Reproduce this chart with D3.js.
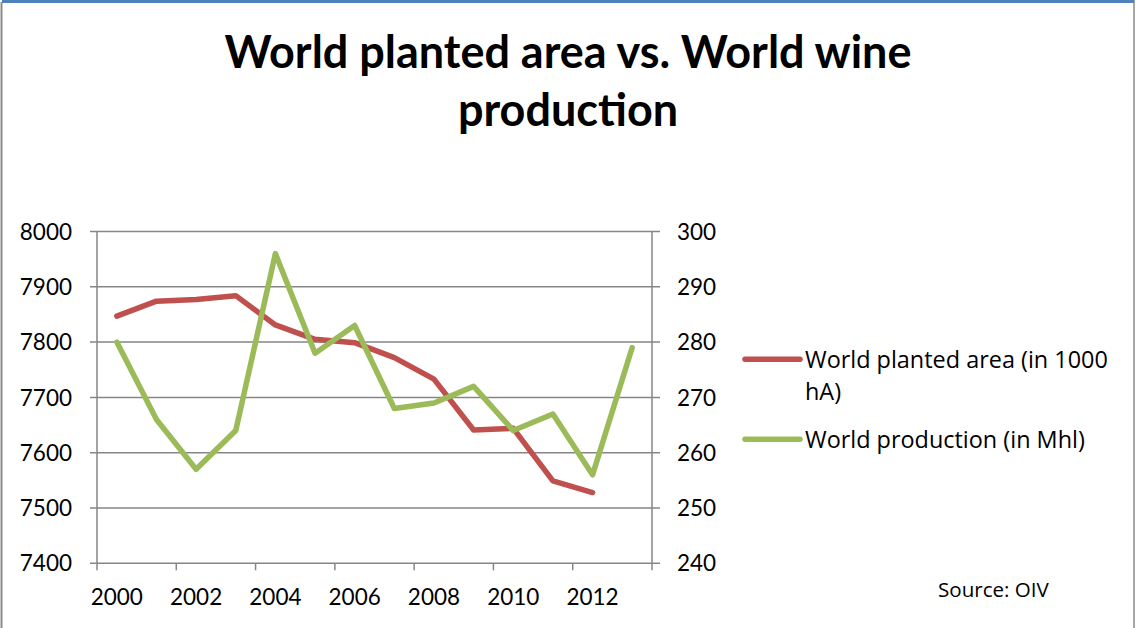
<!DOCTYPE html>
<html>
<head>
<meta charset="utf-8">
<script src="https://cdn.jsdelivr.net/npm/d3@7"></script>
<style>
    body { margin: 0; background: #fff; }
    svg { display: block; }
    text { font-family: Lato, "Open Sans", sans-serif; fill: #000; }
    .legend-text { font-family: "Open Sans", Lato, sans-serif; }
</style>
</head>
<body>
<div id="chart"></div>
<script>
// chart data
const years = [2000, 2001, 2002, 2003, 2004, 2005, 2006, 2007, 2008, 2009, 2010, 2011, 2012, 2013]
const plantedArea = [7847, 7874, 7877, 7884, 7831, 7805, 7799, 7772, 7733, 7641, 7644, 7549, 7528, null]
const wineProduction = [280, 266, 257, 264, 296, 278, 283, 268, 269, 272, 264, 267, 256, 279]
const leftTicks = [7400, 7500, 7600, 7700, 7800, 7900, 8000]
const rightTicks = [240, 250, 260, 270, 280, 290, 300]
const xLabels = [2000, 2002, 2004, 2006, 2008, 2010, 2012]
const titleLines = ["World planted area vs. World wine", "production"]
const legendItems = [
    {lines: ["World planted area (in 1000", "hA)"], color: "#c0504d"},
    {lines: ["World production (in Mhl)"], color: "#9bbb59"}
]

var W = 1136, H = 628
var margin = {left: 97, right: W - 652, top: 231.5, bottom: H - 563.3}

var svg = d3.select("#chart").append("svg")
    .attr("width", W)
    .attr("height", H)

// outer frame
svg.append("rect").attr("x", 0).attr("y", 0).attr("width", W).attr("height", H).attr("fill", "#fff")
svg.append("line").attr("x1", 1.5).attr("x2", 1.5).attr("y1", 2).attr("y2", H).attr("stroke", "#8a8a8a").attr("stroke-width", 2)
svg.append("line").attr("x1", W - 2).attr("x2", W - 2).attr("y1", 0).attr("y2", H).attr("stroke", "#8a8a8a").attr("stroke-width", 1.5)
svg.append("line").attr("x1", 2).attr("x2", W - 2).attr("y1", 1.5).attr("y2", 1.5).attr("stroke", "#4f81bd").attr("stroke-width", 3)

// title, fit to the width seen in the picture
var title = svg.append("g")
title.selectAll("text")
    .data(titleLines)
    .enter().append("text")
    .attr("x", 568)
    .attr("y", (d, i) => 68 + i * 58)
    .attr("text-anchor", "middle")
    .style("font-weight", "bold")
    .style("font-size", "40px")
    .text(d => d)
var w0 = title.select("text").node().getComputedTextLength()
var titleSize = 40 * 687 / w0
title.selectAll("text").style("font-size", titleSize + "px")

// scales
var x = d3.scaleBand()
    .domain(years)
    .range([margin.left, W - margin.right])
var yLeft = d3.scaleLinear()
    .domain([7400, 8000])
    .range([H - margin.bottom, margin.top])
var yRight = d3.scaleLinear()
    .domain([240, 300])
    .range([H - margin.bottom, margin.top])

var gridColor = "#868686"

// gridlines
svg.append("g")
    .selectAll("line")
    .data(leftTicks)
    .enter().append("line")
    .attr("x1", margin.left - 7)
    .attr("x2", W - margin.right + 8)
    .attr("y1", d => yLeft(d))
    .attr("y2", d => yLeft(d))
    .attr("stroke", gridColor)
    .attr("stroke-width", 1.5)

// left and right axis lines
svg.append("line")
    .attr("x1", margin.left).attr("x2", margin.left)
    .attr("y1", margin.top).attr("y2", H - margin.bottom + 7)
    .attr("stroke", gridColor).attr("stroke-width", 1.5)
svg.append("line")
    .attr("x1", W - margin.right).attr("x2", W - margin.right)
    .attr("y1", margin.top).attr("y2", H - margin.bottom + 7)
    .attr("stroke", gridColor).attr("stroke-width", 1.5)

// x ticks every two years at band edges
svg.append("g")
    .selectAll("line")
    .data(xLabels.slice(1))
    .enter().append("line")
    .attr("x1", d => x(d))
    .attr("x2", d => x(d))
    .attr("y1", H - margin.bottom)
    .attr("y2", H - margin.bottom + 7)
    .attr("stroke", gridColor).attr("stroke-width", 1.5)

// axis labels
svg.append("g")
    .selectAll("text")
    .data(leftTicks)
    .enter().append("text")
    .attr("x", 72)
    .attr("y", d => yLeft(d))
    .attr("dy", "0.36em")
    .attr("text-anchor", "end")
    .style("font-size", "22.5px")
    .text(d => d)

svg.append("g")
    .selectAll("text")
    .data(rightTicks)
    .enter().append("text")
    .attr("x", 677)
    .attr("y", d => yRight(d))
    .attr("dy", "0.36em")
    .style("font-size", "22.5px")
    .text(d => d)

svg.append("g")
    .selectAll("text")
    .data(xLabels)
    .enter().append("text")
    .attr("x", d => x(d) + x.bandwidth() / 2)
    .attr("y", 605)
    .attr("text-anchor", "middle")
    .style("font-size", "22.5px")
    .text(d => d)

// lines
var lineLeft = d3.line()
    .defined(d => d.v != null)
    .x(d => x(d.year) + x.bandwidth() / 2)
    .y(d => yLeft(d.v))
var lineRight = d3.line()
    .x(d => x(d.year) + x.bandwidth() / 2)
    .y(d => yRight(d.v))

svg.append("path")
    .datum(years.map((y, i) => ({year: y, v: plantedArea[i]})))
    .attr("d", lineLeft)
    .attr("fill", "none")
    .attr("stroke", legendItems[0].color)
    .attr("stroke-width", 5.5)
    .attr("stroke-linejoin", "round")
    .attr("stroke-linecap", "round")

svg.append("path")
    .datum(years.map((y, i) => ({year: y, v: wineProduction[i]})))
    .attr("d", lineRight)
    .attr("fill", "none")
    .attr("stroke", legendItems[1].color)
    .attr("stroke-width", 5.5)
    .attr("stroke-linejoin", "round")
    .attr("stroke-linecap", "round")

// legend
var legend = svg.append("g")
    .selectAll("g")
    .data(legendItems)
    .enter().append("g")
    .attr("transform", (d, i) => "translate(745," + (i == 0 ? 359.3 : 439.3) + ")")

legend.append("line")
    .attr("x1", 0).attr("x2", 55)
    .attr("stroke", d => d.color)
    .attr("stroke-width", 5.5)
    .attr("stroke-linecap", "round")

legend.each(function(d) {
    d3.select(this).selectAll("text")
        .data(d.lines)
        .enter().append("text")
        .attr("class", "legend-text")
        .attr("x", 60)
        .attr("y", (t, i) => 8.5 + i * 32)
        .style("font-size", "21.5px")
        .text(t => t)
})

// match legend width to the picture (first line about 303px wide)
var lw = legend.select("text").node().getComputedTextLength()
var legendSize = 21.5 * 303 / lw
legend.selectAll("text").style("font-size", legendSize + "px")

var source = svg.append("text")
    .attr("class", "legend-text")
    .attr("x", 938)
    .attr("y", 597)
    .style("font-size", "19px")
    .text("Source: OIV")
var sw = source.node().getComputedTextLength()
source.style("font-size", (19 * 111 / sw) + "px")
</script>
</body>
</html>
